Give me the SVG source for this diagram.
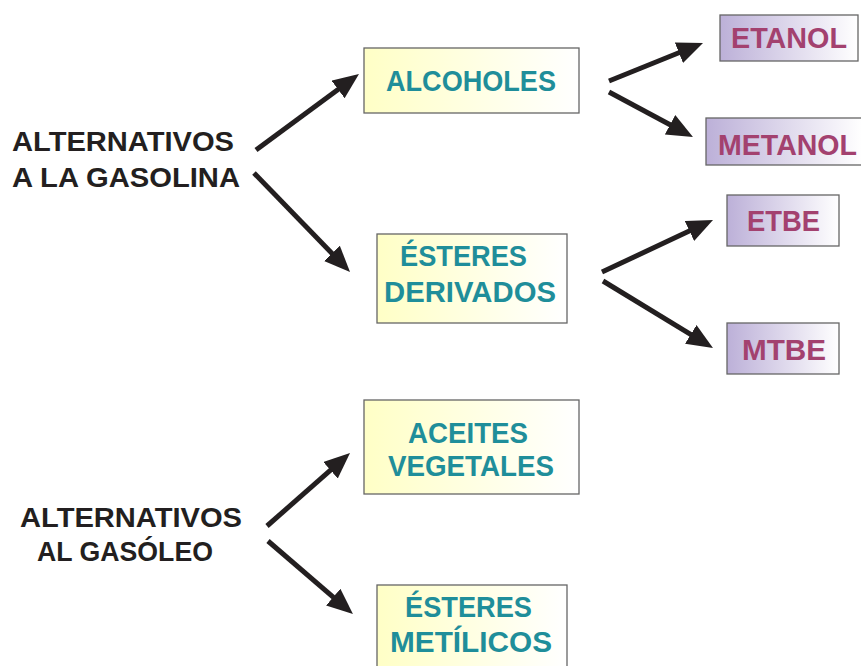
<svg xmlns="http://www.w3.org/2000/svg" width="861" height="666" viewBox="0 0 861 666">
<defs>
<linearGradient id="gy" x1="0" y1="0" x2="1" y2="0">
<stop offset="0" stop-color="#ffffc6"/>
<stop offset="1" stop-color="#ffffff"/>
</linearGradient>
<linearGradient id="gp" x1="0" y1="0" x2="1" y2="0">
<stop offset="0" stop-color="#bcb0d8"/>
<stop offset="1" stop-color="#ffffff"/>
</linearGradient>
<marker id="ah" markerUnits="userSpaceOnUse" markerWidth="30" markerHeight="24" refX="8" refY="11" orient="auto" viewBox="0 0 30 24">
<path d="M0,0 L26,11 L0,22 z" fill="#231f20"/>
</marker>
<style>
.by{fill:url(#gy);stroke:#666;stroke-width:1.3}
.bp{fill:url(#gp);stroke:#666;stroke-width:1.3}
.t{font-family:"Liberation Sans",Arial,sans-serif;font-weight:bold;font-size:29px;fill:#1f8e9a}
.p{font-family:"Liberation Sans",Arial,sans-serif;font-weight:bold;font-size:29px;fill:#a3416f}
.k{font-family:"Liberation Sans",Arial,sans-serif;font-weight:bold;font-size:27px;fill:#231f20}
.c line{stroke:#231f20;stroke-width:5;marker-end:url(#ah)}
</style>
</defs>
<rect width="861" height="666" fill="#ffffff"/>
<g id="gasolina">
<text class="k" x="12" y="151" textLength="222" lengthAdjust="spacingAndGlyphs">ALTERNATIVOS</text>
<text class="k" x="12" y="187" textLength="228" lengthAdjust="spacingAndGlyphs">A LA GASOLINA</text>
</g>
<g id="gasoleo">
<text class="k" x="20" y="527" textLength="222" lengthAdjust="spacingAndGlyphs">ALTERNATIVOS</text>
<text class="k" x="37" y="561" textLength="176" lengthAdjust="spacingAndGlyphs">AL GASÓLEO</text>
</g>
<g id="alcoholes">
<rect class="by" x="364" y="48" width="215" height="65"/>
<text class="t" x="386" y="91" textLength="170" lengthAdjust="spacingAndGlyphs">ALCOHOLES</text>
</g>
<g id="esteres-derivados">
<rect class="by" x="377" y="234" width="190" height="89"/>
<text class="t" x="400" y="266" textLength="127" lengthAdjust="spacingAndGlyphs">ÉSTERES</text>
<text class="t" x="384" y="302" textLength="172" lengthAdjust="spacingAndGlyphs">DERIVADOS</text>
</g>
<g id="aceites">
<rect class="by" x="364" y="400" width="215" height="94"/>
<text class="t" x="408" y="443" textLength="120" lengthAdjust="spacingAndGlyphs">ACEITES</text>
<text class="t" x="388" y="476" textLength="166" lengthAdjust="spacingAndGlyphs">VEGETALES</text>
</g>
<g id="esteres-metilicos">
<rect class="by" x="377" y="585" width="190" height="90"/>
<text class="t" x="405" y="617" textLength="127" lengthAdjust="spacingAndGlyphs">ÉSTERES</text>
<text class="t" x="390" y="652" textLength="162" lengthAdjust="spacingAndGlyphs">METÍLICOS</text>
</g>
<g id="etanol">
<rect class="bp" x="720" y="15" width="138" height="46"/>
<text class="p" x="731" y="48" textLength="116" lengthAdjust="spacingAndGlyphs">ETANOL</text>
</g>
<g id="metanol">
<rect class="bp" x="706" y="118" width="156" height="47"/>
<text class="p" x="718" y="155" textLength="139" lengthAdjust="spacingAndGlyphs">METANOL</text>
</g>
<g id="etbe">
<rect class="bp" x="727" y="195" width="112" height="51"/>
<text class="p" x="747" y="231" textLength="73" lengthAdjust="spacingAndGlyphs">ETBE</text>
</g>
<g id="mtbe">
<rect class="bp" x="727" y="323" width="112" height="51"/>
<text class="p" x="742" y="360" textLength="84" lengthAdjust="spacingAndGlyphs">MTBE</text>
</g>
<g id="connectors" class="c">
<line x1="256" y1="150" x2="344.5" y2="84.7"/>
<line x1="254" y1="173" x2="337.5" y2="259.1"/>
<line x1="609" y1="81" x2="686.3" y2="49.7"/>
<line x1="609" y1="92" x2="677.1" y2="128.5"/>
<line x1="602" y1="272" x2="696.7" y2="227.6"/>
<line x1="603" y1="281" x2="697.6" y2="338.6"/>
<line x1="267" y1="526" x2="336.5" y2="464.9"/>
<line x1="268" y1="541" x2="339.3" y2="602.3"/>
</g>
</svg>
